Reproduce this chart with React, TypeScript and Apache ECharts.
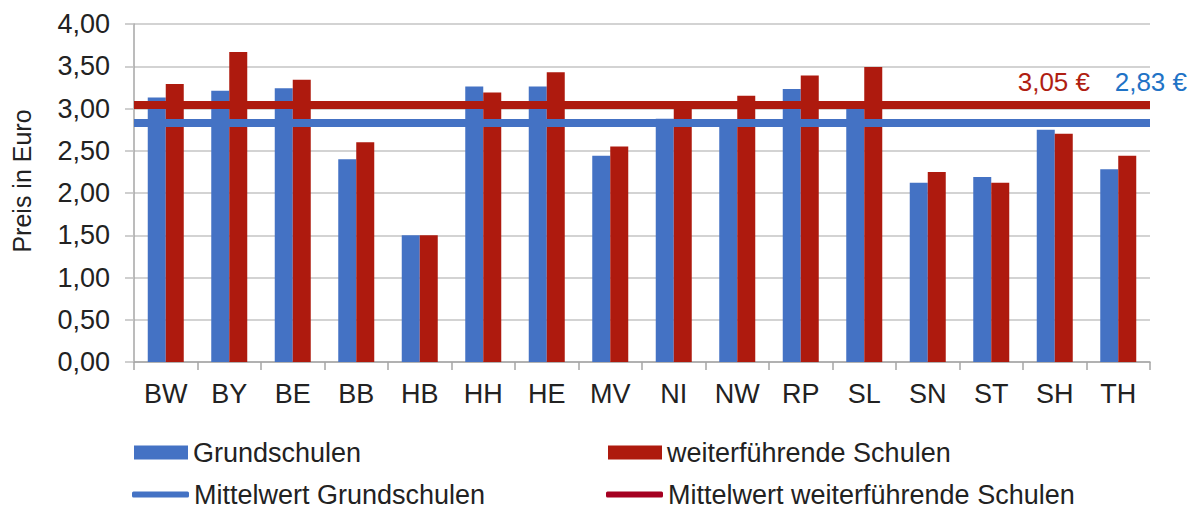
import React, { useEffect, useRef } from "react";
import * as echarts from "echarts";

const categories = ["BW", "BY", "BE", "BB", "HB", "HH", "HE", "MV", "NI", "NW", "RP", "SL", "SN", "ST", "SH", "TH"];
const grundschulen = [3.13, 3.21, 3.24, 2.40, 1.50, 3.26, 3.26, 2.44, 2.88, 2.82, 3.23, 3.02, 2.12, 2.19, 2.75, 2.28];
const weiterfuehrende = [3.29, 3.67, 3.34, 2.60, 1.50, 3.19, 3.43, 2.55, 3.05, 3.15, 3.39, 3.49, 2.25, 2.12, 2.70, 2.44];
const meanGrund = 2.83;
const meanWeiter = 3.05;
const yTicks = { min: 0, max: 4, interval: 0.5 };

const BLUE = "#4472C4";
const RED = "#AE1A0E";
const FONT = "'Liberation Sans', Arial, sans-serif";
const TEXT = "#222222";

const fmtEuro = (v: number) => v.toFixed(2).replace(".", ",") + " €";

export default function App() {
  const ref = useRef<HTMLDivElement>(null);
  useEffect(() => {
    document.body.style.margin = "0";
    if (!ref.current) return;
    const chart = echarts.init(ref.current, null, { renderer: "svg" });
    const legendBase = {
      orient: "horizontal" as const,
      padding: 0,
      itemGap: 0,
      selectedMode: false,
      textStyle: { fontSize: 27, color: TEXT, fontFamily: FONT, lineHeight: 22 },
    };
    chart.setOption({
      animation: false,
      textStyle: { fontFamily: FONT },
      grid: { left: 134, right: 50, top: 24, bottom: 148, containLabel: false },
      legend: [
        { ...legendBase, data: [{ name: "Grundschulen", icon: "rect" }], left: 134, top: 439, itemWidth: 54, itemHeight: 14 },
        { ...legendBase, data: [{ name: "weiterführende Schulen", icon: "rect" }], left: 608, top: 439, itemWidth: 54, itemHeight: 14 },
        { ...legendBase, data: [{ name: "Mittelwert Grundschulen", icon: "roundRect" }], left: 132, top: 481, itemWidth: 57, itemHeight: 6 },
        { ...legendBase, data: [{ name: "Mittelwert weiterführende Schulen", icon: "roundRect", itemStyle: { color: "#A50021" } }], left: 606, top: 481, itemWidth: 57, itemHeight: 6 },
      ],
      xAxis: {
        type: "category",
        data: categories,
        axisLine: { show: true, lineStyle: { color: "#A6A6A6", width: 1.5 } },
        axisTick: { show: true, length: 8, alignWithLabel: false, lineStyle: { color: "#A6A6A6", width: 1.5 } },
        axisLabel: { fontSize: 27, color: TEXT, fontFamily: FONT, margin: 18 },
        splitLine: { show: false },
      },
      yAxis: {
        type: "value",
        min: yTicks.min,
        max: yTicks.max,
        interval: yTicks.interval,
        name: "Preis in Euro",
        nameLocation: "middle",
        nameGap: 100,
        nameRotate: 90,
        nameTextStyle: { fontSize: 25, color: TEXT, fontFamily: FONT, padding: [0, 0, 0, 24] },
        axisLine: { show: true, lineStyle: { color: "#A6A6A6", width: 1.5 } },
        axisTick: { show: true, length: 9, lineStyle: { color: "#BFBFBF", width: 1.5 } },
        axisLabel: {
          fontSize: 27,
          color: TEXT,
          fontFamily: FONT,
          margin: 24,
          formatter: (v: number) => v.toFixed(2).replace(".", ","),
        },
        splitLine: { show: true, lineStyle: { color: "#C4C4C4", width: 1.5 } },
      },
      series: [
        {
          name: "Grundschulen",
          type: "bar",
          data: grundschulen,
          barWidth: 18,
          barGap: "0%",
          itemStyle: { color: BLUE },
          z: 2,
        },
        {
          name: "weiterführende Schulen",
          type: "bar",
          data: weiterfuehrende,
          barWidth: 18,
          barGap: "0%",
          itemStyle: { color: RED },
          z: 2,
        },
        {
          name: "Mittelwert Grundschulen",
          type: "line",
          data: [],
          itemStyle: { color: BLUE },
          lineStyle: { color: BLUE },
          z: 5,
          markLine: {
            silent: true,
            symbol: "none",
            lineStyle: { color: BLUE, width: 8, type: "solid" },
            label: {
              show: true,
              position: "insideEndTop",
              formatter: () => fmtEuro(meanGrund),
              color: "#1F73C6",
              fontSize: 26,
              fontFamily: FONT,
              offset: [42, -23],
            },
            data: [{ yAxis: meanGrund }],
          },
        },
        {
          name: "Mittelwert weiterführende Schulen",
          type: "line",
          data: [],
          itemStyle: { color: RED },
          lineStyle: { color: RED },
          z: 5,
          markLine: {
            silent: true,
            symbol: "none",
            lineStyle: { color: RED, width: 8, type: "solid" },
            label: {
              show: true,
              position: "insideEndTop",
              formatter: () => fmtEuro(meanWeiter),
              color: "#B01E12",
              fontSize: 26,
              fontFamily: FONT,
              offset: [-55, -4],
            },
            data: [{ yAxis: meanWeiter }],
          },
        },
      ],
    });
    return () => chart.dispose();
  }, []);
  return <div ref={ref} style={{ width: 1200, height: 510 }} />;
}
